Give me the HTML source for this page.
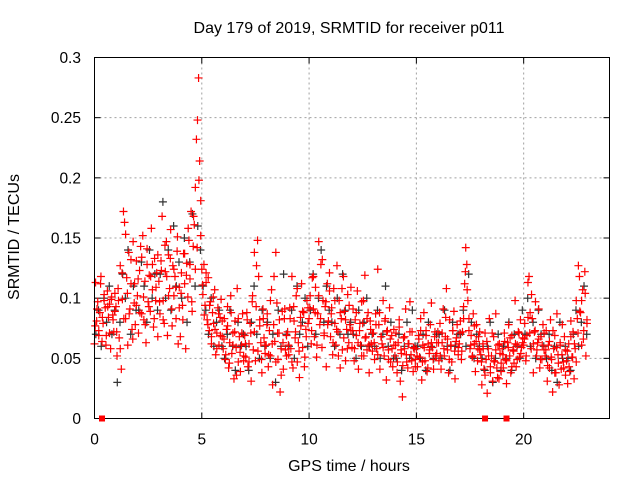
<!DOCTYPE html>
<html><head><meta charset="utf-8"><style>
html,body{margin:0;padding:0;background:#fff}
svg{display:block;font-family:"Liberation Sans",sans-serif}
</style></head><body>
<svg id="chart" width="640" height="480">
<text x="349" y="33" font-size="16" text-anchor="middle">Day 179 of 2019, SRMTID for receiver p011</text>
<text x="349" y="471" font-size="16" text-anchor="middle">GPS time / hours</text>
<text transform="translate(19,237) rotate(-90)" font-size="16" text-anchor="middle">SRMTID / TECUs</text>
<g id="grid"></g>
<g id="ticks"></g>
<g id="black"></g>
<g id="red"></g>
<rect x="94.5" y="57.5" width="515" height="361" fill="none" stroke="#000" stroke-width="1"/>
<g id="marks"></g>
</svg>
<script>
const xTicks=[0,5,10,15,20];
const yTicks=[0,0.05,0.1,0.15,0.2,0.25,0.3];
const yTickLabels=["0","0.05","0.1","0.15","0.2","0.25","0.3"];
const gapMarks=[0.35,18.2,19.2];
const redValues=[
[.062,.113,.081,.097,.073,.088,.118,.064,.079,.103,.092,.069,.106,.084,.095,.058,.101,.086,.072,.104],
[.093,.052,.108,.067,.127,.041,.099,.172,.163,.083,.117,.061,.138,.091,.112,.074,.147,.096,.078,.131],
[.102,.071,.123,.143,.087,.152,.082,.114,.063,.128,.097,.119,.089,.158,.107,.076,.133,.098,.121,.068],
[.114,.087,.131,.168,.098,.079,.122,.147,.069,.136,.108,.157,.091,.127,.102,.118,.083,.139,.062,.109],
[.068,.121,.094,.137,.112,.058,.129,.101,.148,.116,.172,.089,.143,.161,.192,.232,.248,.283,.214,.181],
[.124,.103,.128,.094,.113,.082,.117,.073,.097,.062,.088,.079,.107,.053,.071,.092,.061,.084,.099,.068],
[.058,.083,.049,.074,.093,.042,.063,.102,.054,.071,.033,.081,.059,.108,.047,.068,.039,.061,.087,.052],
[.069,.051,.088,.043,.062,.079,.031,.097,.057,.072,.048,.127,.148,.118,.082,.063,.038,.091,.067,.054],
[.061,.087,.043,.073,.052,.107,.028,.078,.064,.138,.096,.049,.071,.022,.058,.089,.041,.083,.057,.069],
[.072,.053,.092,.058,.118,.042,.081,.067,.102,.047,.063,.034,.084,.112,.059,.088,.051,.074,.098,.079],
[.083,.102,.062,.117,.091,.068,.109,.051,.087,.147,.078,.128,.059,.098,.071,.093,.043,.112,.081,.121],
[.068,.092,.053,.108,.079,.061,.127,.072,.098,.042,.083,.057,.118,.089,.048,.074,.103,.063,.078,.109],
[.059,.091,.048,.082,.069,.106,.041,.073,.061,.097,.079,.052,.119,.068,.057,.088,.038,.081,.062,.071],
[.071,.049,.087,.058,.124,.078,.041,.068,.062,.098,.052,.083,.032,.073,.057,.092,.047,.069,.043,.061],
[.052,.071,.038,.063,.082,.031,.054,.018,.067,.058,.091,.047,.042,.062,.097,.053,.072,.039,.058,.049],
[.058,.043,.069,.051,.083,.032,.061,.088,.048,.073,.039,.062,.054,.078,.096,.059,.041,.068,.052,.063],
[.072,.048,.079,.041,.063,.091,.052,.068,.108,.057,.038,.082,.061,.047,.073,.089,.033,.064,.078,.053],
[.062,.081,.049,.072,.093,.112,.142,.128,.098,.083,.058,.069,.051,.087,.062,.039,.078,.048,.068,.057],
[.053,.028,.062,.041,.071,.049,.021,.058,.083,.038,.052,.031,.068,.047,.087,.042,.061,.033,.054,.039],
[.058,.042,.071,.049,.029,.063,.078,.052,.038,.069,.057,.046,.098,.043,.061,.072,.051,.082,.059,.067],
[.061,.079,.048,.069,.113,.118,.088,.058,.083,.038,.072,.097,.052,.063,.091,.042,.068,.049,.078,.057],
[.052,.073,.031,.061,.042,.082,.049,.022,.058,.069,.038,.087,.053,.028,.063,.041,.078,.047,.068,.036],
[.048,.029,.062,.039,.081,.051,.072,.033,.058,.098,.083,.127,.118,.088,.061,.107,.073,.122,.052,.079]
];
const redValues2=[
[.077,.091,.069,.112,.084,.098,.061,.093,.071,.099,.082,.089],
[.072,.098,.058,.121,.083,.153,.104,.087,.132,.066,.112,.094],
[.116,.088,.134,.101,.078,.141,.093,.118,.128,.083,.109,.136],
[.097,.123,.082,.144,.118,.102,.133,.077,.124,.109,.151,.092],
[.104,.082,.137,.119,.158,.128,.097,.168,.124,.142,.198,.152],
[.111,.086,.121,.078,.094,.068,.101,.074,.058,.087,.069,.081],
[.066,.053,.077,.046,.088,.061,.072,.036,.083,.055,.071,.048],
[.062,.082,.047,.071,.102,.138,.093,.056,.077,.049,.083,.061],
[.078,.053,.098,.062,.118,.047,.071,.082,.036,.063,.091,.052],
[.061,.083,.047,.093,.072,.108,.056,.077,.089,.043,.068,.092],
[.092,.073,.118,.088,.061,.102,.083,.132,.069,.097,.078,.106],
[.087,.063,.098,.074,.052,.088,.108,.067,.082,.058,.094,.073],
[.073,.058,.088,.063,.079,.052,.098,.067,.083,.061,.074,.056],
[.063,.078,.053,.088,.068,.059,.081,.072,.049,.066,.058,.074],
[.061,.047,.076,.057,.044,.068,.053,.062,.072,.048,.059,.043],
[.052,.066,.073,.047,.059,.069,.042,.057,.063,.049,.072,.054],
[.063,.052,.071,.058,.084,.066,.049,.061,.073,.056,.067,.059],
[.071,.056,.083,.122,.107,.073,.061,.052,.077,.064,.058,.072],
[.047,.058,.036,.064,.052,.043,.071,.048,.057,.034,.062,.046],
[.053,.064,.048,.059,.067,.043,.056,.062,.049,.071,.054,.063],
[.066,.052,.084,.071,.103,.062,.073,.057,.066,.049,.061,.071],
[.057,.044,.064,.051,.073,.038,.059,.046,.061,.053,.042,.057],
[.056,.043,.068,.051,.062,.047,.071,.089,.098,.066,.104,.082]
];
const blackValues=[
[.07,.09,.06,.10,.08,.11,.07,.09],
[.03,.08,.12,.10,.14,.07,.11,.09],
[.09,.13,.11,.08,.14,.10,.12,.09],
[.12,.18,.10,.14,.09,.16,.11,.13],
[.10,.15,.08,.13,.17,.11,.16,.14],
[.11,.09,.07,.10,.06,.08,.09,.06],
[.05,.07,.09,.06,.04,.08,.06,.07],
[.06,.04,.08,.11,.07,.05,.09,.06],
[.08,.05,.07,.03,.09,.06,.12,.07],
[.06,.09,.05,.11,.07,.08,.10,.06],
[.09,.12,.07,.10,.14,.08,.11,.09],
[.08,.06,.10,.07,.12,.09,.07,.08],
[.07,.05,.09,.06,.08,.10,.06,.07],
[.06,.09,.05,.07,.11,.06,.08,.05],
[.05,.07,.04,.06,.08,.05,.09,.06],
[.06,.05,.07,.04,.08,.06,.05,.07],
[.07,.05,.09,.06,.04,.08,.06,.07],
[.07,.09,.06,.12,.08,.05,.07,.06],
[.05,.04,.06,.08,.03,.05,.07,.04],
[.06,.05,.08,.04,.07,.06,.05,.09],
[.07,.10,.06,.08,.05,.09,.07,.06],
[.05,.07,.04,.06,.03,.08,.05,.06],
[.05,.04,.07,.09,.06,.08,.11,.07]
];
const X0=94.5,X1=609.5,Y0=418.5,Y1=57.5,XMAX=24,YMAX=0.3;
function sx(t){return X0+(X1-X0)*t/XMAX;}
function sy(v){return Y0-(Y0-Y1)*v/YMAX;}
const NS="http://www.w3.org/2000/svg";
function mk(tag,attrs,parent){const e=document.createElementNS(NS,tag);for(const k in attrs)e.setAttribute(k,attrs[k]);parent.appendChild(e);return e;}
const grid=document.getElementById('grid'),ticks=document.getElementById('ticks');
xTicks.forEach(t=>{
  const x=sx(t);
  if(t>0){const g=mk('line',{x1:x,x2:x,y1:Y1,y2:Y0,stroke:'#a0a0a0','stroke-dasharray':'2,3'},grid);
  
  }
  mk('line',{x1:x,x2:x,y1:Y0,y2:Y0-6,stroke:'#000'},ticks);
  mk('line',{x1:x,x2:x,y1:Y1,y2:Y1+6,stroke:'#000'},ticks);
  const l=mk('text',{x:x,y:Y0+26,'font-size':15.5,'text-anchor':'middle'},ticks);
  l.textContent=String(t);
  
  
});
yTicks.forEach((v,i)=>{
  const y=sy(v);
  if(i>0&&i<yTicks.length-1){const g=mk('line',{x1:X0,x2:X1,y1:y,y2:y,stroke:'#a0a0a0','stroke-dasharray':'2,3'},grid);
  
  }
  mk('line',{x1:X0,x2:X0+6,y1:y,y2:y,stroke:'#000'},ticks);
  mk('line',{x1:X1,x2:X1-6,y1:y,y2:y,stroke:'#000'},ticks);
  const l=mk('text',{x:81,y:y+5.5,'font-size':15.5,'text-anchor':'end'},ticks);
  l.textContent=yTickLabels[i];
  
  
});
function plus(parent,t,v,color,name){
  const x=sx(t),y=sy(v);
  const p=mk('path',{d:`M${x-4} ${y}H${x+4}M${x} ${y-4}V${y+4}`,stroke:color,'stroke-width':1.2,fill:'none'},parent);
  
  
}
const bg=document.getElementById('black');
blackValues.forEach((row,h)=>row.forEach((v,i)=>plus(bg,h+(i+0.5)/row.length,v,'#333','black-point')));
const rg=document.getElementById('red');
redValues.forEach((row,h)=>row.forEach((v,i)=>plus(rg,h+i/row.length,v,'#ff0000','red-point')));
redValues2.forEach((row,h)=>row.forEach((v,i)=>plus(rg,h+(i+0.4)/row.length,v,'#ff0000','red-point')));
const mg=document.getElementById('marks');
gapMarks.forEach(t=>{
  const r=mk('rect',{x:sx(t)-3,y:Y0-3,width:6,height:6,fill:'#ff0000'},mg);
  
  
});
</script>
</body></html>
